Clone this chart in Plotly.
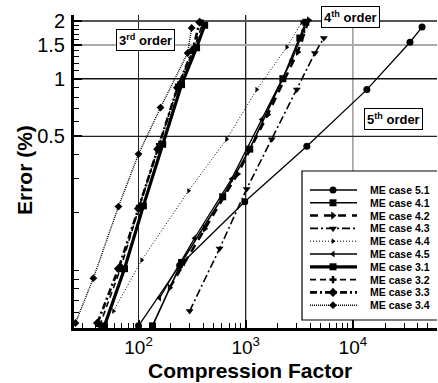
import plotly.graph_objects as go

# Compression factor / error (%) for each ME case
cases = ["ME case 5.1", "ME case 4.1", "ME case 4.2", "ME case 4.3", "ME case 4.4",
         "ME case 4.5", "ME case 3.1", "ME case 3.2", "ME case 3.3", "ME case 3.4"]

cf_51 = [100, 242, 980, 3720, 13500, 34100, 44200]
err_51 = [0.0513, 0.106, 0.228, 0.444, 0.877, 1.55, 1.86]

cf_41 = [135, 252, 610, 1090, 2220, 3200, 3640]
err_41 = [0.0513, 0.110, 0.242, 0.429, 1.0, 1.63, 1.97]

cf_42 = [195, 414, 841, 1607, 3063, 3880]
err_42 = [0.081, 0.165, 0.318, 0.650, 1.38, 2.02]

cf_43 = [300, 571, 1021, 1751, 2997, 4418, 5358]
err_43 = [0.0613, 0.130, 0.266, 0.483, 0.877, 1.36, 1.63]

cf_44 = [58.4, 107, 293, 664, 1267, 2417, 3337]
err_44 = [0.0613, 0.113, 0.260, 0.483, 0.877, 1.46, 1.97]

cf_45 = [157, 333, 739, 1412, 2690, 3483]
err_45 = [0.0716, 0.147, 0.300, 0.613, 1.25, 1.79]

cf_31 = [48.1, 74.0, 111, 168, 252, 348, 414]
err_31 = [0.0513, 0.102, 0.217, 0.455, 0.931, 1.45, 1.90]

cf_32 = [43.3, 67.9, 102, 157, 236, 333, 396]
err_32 = [0.0513, 0.102, 0.217, 0.455, 0.931, 1.45, 1.95]

cf_33 = [41.4, 65.0, 100, 151, 231, 320, 372]
err_33 = [0.0531, 0.102, 0.210, 0.429, 0.898, 1.41, 1.97]

cf_34 = [25.8, 37.9, 65.0, 100, 160.5, 287, 313]
err_34 = [0.0531, 0.091, 0.215, 0.404, 0.707, 1.36, 1.84]

x_tick_vals = [100, 1000, 10000]
x_tick_text = ["10<sup>2</sup>", "10<sup>3</sup>", "10<sup>4</sup>"]
y_tick_vals = [0.5, 1, 1.5, 2]
y_tick_text = ["0.5", "1", "1.5", "2"]

FONT = "Liberation Sans, Arial"

series = [
    (cf_51, err_51, dict(width=1.3), dict(symbol="circle", size=7)),
    (cf_41, err_41, dict(width=1.6), dict(symbol="square", size=7)),
    (cf_42, err_42, dict(width=2.5, dash="8px,6px"), dict(symbol="triangle-right", size=7)),
    (cf_43, err_43, dict(width=1.6, dash="8px,3px,2px,3px"), dict(symbol="triangle-down", size=7)),
    (cf_44, err_44, dict(width=1.0, dash="1px,2px"), dict(symbol="triangle-right", size=5)),
    (cf_45, err_45, dict(width=1.3), dict(symbol="triangle-left", size=6)),
    (cf_31, err_31, dict(width=3.2), dict(symbol="square", size=7)),
    (cf_32, err_32, dict(width=1.6, dash="6px,4px"), dict(symbol="cross", size=6)),
    (cf_33, err_33, dict(width=2.6, dash="7px,3px,2px,3px"), dict(symbol="diamond", size=7)),
    (cf_34, err_34, dict(width=1.4, dash="1px,1px"), dict(symbol="diamond", size=6)),
]

fig = go.Figure()
for name, (xs, ys, ln, mk) in zip(cases, series):
    fig.add_trace(go.Scatter(
        x=xs, y=ys, mode="lines+markers", name=name, showlegend=False,
        line=dict(color="black", **ln),
        marker=dict(color="black", **mk),
        cliponaxis=False,
    ))

# Plot area in page pixels, used by an overlay axis for the key and labels
L, R, T, B = 74, 437, 15, 328


def paper_x(px):
    return (px - L) / (R - L)


def paper_y(py):
    return (B - py) / (B - T)


# Hand-drawn key: sample line, marker and label for each case
row0, row_step = 190, 12.8
for i, (name, (xs, ys, ln, mk)) in enumerate(zip(cases, series)):
    ry = row0 + i * row_step
    fig.add_trace(go.Scatter(
        x=[310, 357], y=[ry, ry], mode="lines", xaxis="x2", yaxis="y2",
        line=dict(color="black", **ln), showlegend=False, hoverinfo="skip"))
    fig.add_trace(go.Scatter(
        x=[333], y=[ry], mode="markers", xaxis="x2", yaxis="y2",
        marker=dict(color="black", **mk), showlegend=False, hoverinfo="skip"))
    fig.add_annotation(x=368, y=ry, xref="x2", yref="y2", text="<b>" + name + "</b>",
                       showarrow=False, xanchor="left", yanchor="middle",
                       font=dict(size=10.5, color="black", family=FONT))

shapes = []
# grid lines
for v, col, w in [(100, "#222", 1), (1000, "#111", 1.2), (10000, "#999", 1.5)]:
    shapes.append(dict(type="line", xref="x", yref="paper", x0=v, x1=v, y0=0, y1=1,
                       line=dict(color=col, width=w), layer="below"))
for v, col, w in [(2, "#555", 2), (1.5, "#aaa", 2), (1, "#111", 1.5), (0.5, "#222", 1.2)]:
    shapes.append(dict(type="line", xref="paper", yref="y", x0=0, x1=1, y0=v, y1=v,
                       line=dict(color=col, width=w), layer="below"))
# key frame
shapes.append(dict(type="rect", xref="x2", yref="y2", x0=302, x1=450, y0=171, y1=320,
                   line=dict(color="black", width=1.2), fillcolor="white", layer="below"))
fig.update_layout(shapes=shapes)

# order labels
for txt, cx, cy in [("3<sup>rd</sup> order", 145, 40),
                    ("4<sup>th</sup> order", 350, 17),
                    ("5<sup>th</sup> order", 393, 119)]:
    fig.add_annotation(x=paper_x(cx), y=paper_y(cy), xref="paper", yref="paper",
                       xanchor="center", yanchor="middle",
                       text="<b>" + txt + "</b>",
                       showarrow=False, bgcolor="white", bordercolor="black", borderwidth=1,
                       borderpad=2, font=dict(size=13, color="black", family=FONT))

# axis titles
fig.add_annotation(x=paper_x(250), y=paper_y(370), xref="paper", yref="paper",
                   xanchor="center", yanchor="middle",
                   text="<b>Compression Factor</b>",
                   showarrow=False, font=dict(size=21, color="black", family=FONT))
fig.add_annotation(x=paper_x(24), y=paper_y(170), xref="paper", yref="paper",
                   xanchor="center", yanchor="middle",
                   text="<b>Error (%)</b>", textangle=-90,
                   showarrow=False, font=dict(size=21, color="black", family=FONT))

fig.update_layout(
    width=438, height=383,
    margin=dict(l=L, r=438 - R, t=T, b=383 - B),
    paper_bgcolor="white", plot_bgcolor="white",
    font=dict(family=FONT, color="black"),
    xaxis=dict(
        type="log", range=[1.398, 4.785],
        tickvals=x_tick_vals, ticktext=x_tick_text,
        ticks="inside", ticklen=8, tickwidth=1.5, tickcolor="black",
        minor=dict(tickvals=[30, 40, 50, 60, 70, 80, 90,
                             200, 300, 400, 500, 600, 700, 800, 900,
                             2000, 3000, 4000, 5000, 6000, 7000, 8000, 9000,
                             20000, 30000, 40000, 50000, 60000],
                   ticks="inside", ticklen=5, tickwidth=1, tickcolor="black", showgrid=False),
        showgrid=False, zeroline=False,
        showline=True, linecolor="black", linewidth=3,
        tickfont=dict(size=19, color="black"),
    ),
    yaxis=dict(
        type="log", range=[-1.301, 0.3324],
        tickvals=y_tick_vals, ticktext=y_tick_text,
        ticks="inside", ticklen=8, tickwidth=1.5, tickcolor="black",
        minor=dict(tickvals=[0.06, 0.07, 0.08, 0.09, 0.1, 0.2, 0.3, 0.4,
                             0.6, 0.7, 0.8, 0.9, 1.1, 1.2, 1.3, 1.4,
                             1.6, 1.7, 1.8, 1.9],
                   ticks="inside", ticklen=5, tickwidth=1, tickcolor="black", showgrid=False),
        showgrid=False, zeroline=False,
        showline=True, linecolor="black", linewidth=3,
        tickfont=dict(size=20, color="black"),
        ticklabelstandoff=2,
    ),
    xaxis2=dict(overlaying="x", anchor="y2", range=[L, R], visible=False, fixedrange=True),
    yaxis2=dict(overlaying="y", anchor="x2", range=[B, T], visible=False, fixedrange=True),
)

fig.write_html("out.html")
